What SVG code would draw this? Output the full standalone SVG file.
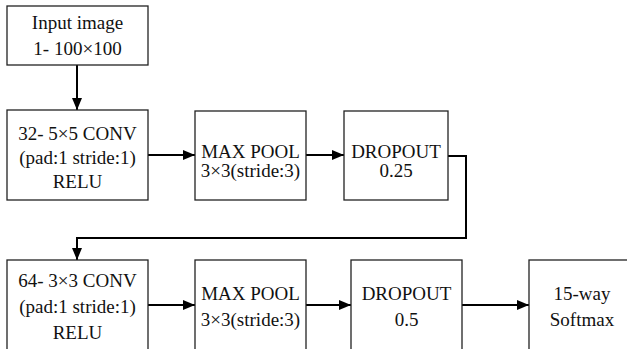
<svg xmlns="http://www.w3.org/2000/svg" width="627" height="349" viewBox="0 0 627 349">
<defs>
<style>
.box{fill:#fff;stroke:#222;stroke-width:1.3}
.t{font-size:19px;fill:#111;text-anchor:middle}
.c{fill:none;stroke:#000;stroke-width:2}
</style>
<marker id="ah" viewBox="0 0 12 10" refX="12" refY="5" markerWidth="12" markerHeight="10" markerUnits="userSpaceOnUse" orient="auto">
<path d="M0,0 L12,5 L0,10 Z" fill="#000"/>
</marker>
</defs>
<rect width="627" height="349" fill="#fff"/>
<g id="connectors">
<path class="c" d="M77,65 V110" marker-end="url(#ah)"/>
<path class="c" d="M148,155 H195" marker-end="url(#ah)"/>
<path class="c" d="M306,155 H344" marker-end="url(#ah)"/>
<path class="c" d="M448,156 H466 V238 H77 V260" marker-end="url(#ah)"/>
<path class="c" d="M148,305 H195" marker-end="url(#ah)"/>
<path class="c" d="M306,305 H351" marker-end="url(#ah)"/>
<path class="c" d="M462,305 H529" marker-end="url(#ah)"/>
</g>
<g font-family="Liberation Serif, DejaVu Serif, serif">
<g id="input">
<rect class="box" x="7" y="6" width="141" height="59"/>
<text class="t" x="77.5" y="29">Input image</text>
<text class="t" x="77.5" y="55">1- 100×100</text>
</g>
<g id="conv1">
<rect class="box" x="7" y="110" width="141" height="90"/>
<text class="t" x="77.5" y="140">32- 5×5 CONV</text>
<text class="t" x="77.5" y="164">(pad:1 stride:1)</text>
<text class="t" x="77.5" y="188">RELU</text>
</g>
<g id="maxpool1">
<rect class="box" x="195" y="111" width="111" height="89"/>
<text class="t" x="250.5" y="158">MAX POOL</text>
<text class="t" x="250.5" y="177">3×3(stride:3)</text>
</g>
<g id="dropout1">
<rect class="box" x="344" y="111" width="104" height="89"/>
<text class="t" x="396" y="158">DROPOUT</text>
<text class="t" x="396" y="177">0.25</text>
</g>
<g id="conv2">
<rect class="box" x="7" y="260" width="141" height="100"/>
<text class="t" x="77.5" y="287">64- 3×3 CONV</text>
<text class="t" x="77.5" y="313">(pad:1 stride:1)</text>
<text class="t" x="77.5" y="339">RELU</text>
</g>
<g id="maxpool2">
<rect class="box" x="195" y="260" width="111" height="100"/>
<text class="t" x="250.5" y="300">MAX POOL</text>
<text class="t" x="250.5" y="326">3×3(stride:3)</text>
</g>
<g id="dropout2">
<rect class="box" x="351" y="260" width="111" height="100"/>
<text class="t" x="406.5" y="300">DROPOUT</text>
<text class="t" x="406.5" y="326">0.5</text>
</g>
<g id="softmax">
<rect class="box" x="529" y="260" width="107" height="100"/>
<text class="t" x="582" y="300">15-way</text>
<text class="t" x="582" y="326">Softmax</text>
</g>
</g>
</svg>
